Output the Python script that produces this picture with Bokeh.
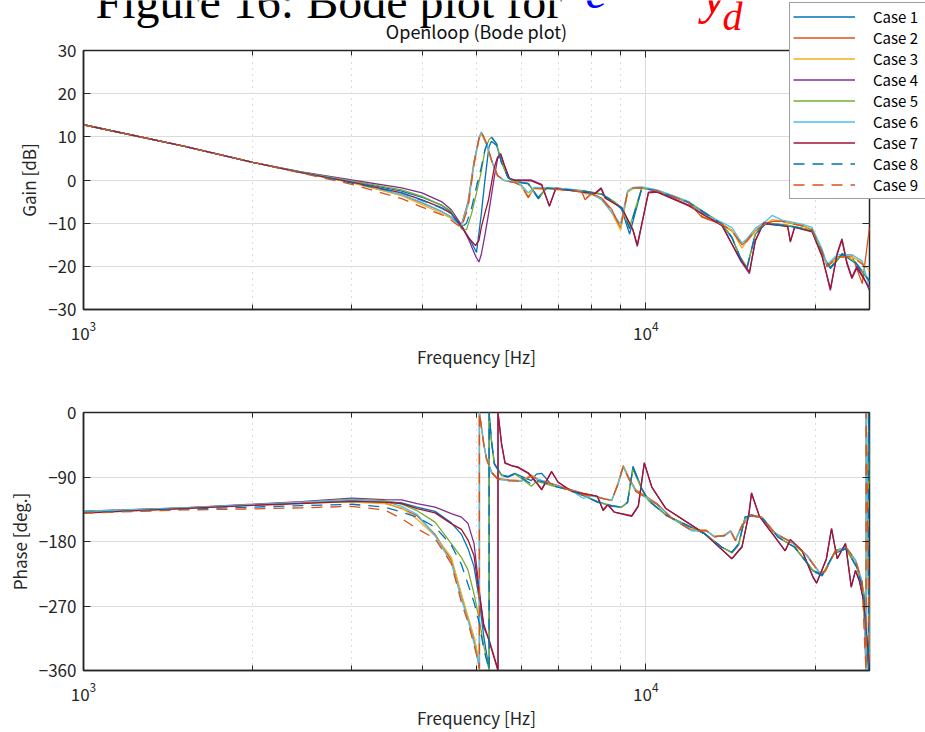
from bokeh.plotting import figure
from bokeh.models import (Range1d, FixedTicker, LogAxis, LinearAxis, Legend, LegendItem, Label,
                          CustomJSTickFormatter)
from bokeh.layouts import column
from bokeh.embed import file_html
from bokeh.resources import INLINE

# ---------------- data ----------------
case_names = ["Case 1", "Case 2", "Case 3", "Case 4", "Case 5", "Case 6", "Case 7", "Case 8", "Case 9"]
case_colors = ["#0072BD", "#D95319", "#EDB120", "#7E2F8E", "#77AC30", "#4DBEEE", "#A2142F", "#0072BD", "#D95319"]
case_dash = ["solid", "solid", "solid", "solid", "solid", "solid", "solid", "11 8", "11 8"]
case_group = ["B", "A", "A", "C", "B", "A", "C", "B", "A"]

x_major_ticks = [1000, 10000]
x_minor_ticks = [2000, 3000, 4000, 5000, 6000, 7000, 8000, 9000, 20000]
gain_ticks = [-30, -20, -10, 0, 10, 20, 30]
phase_ticks = [-360, -270, -180, -90, 0]

heading_text = "Figure 16: Bode plot for"

# gain frequency grids [Hz] per resonance group
gain_freq_A = [1000, 1500, 2000, 2440, 3000, 3680, 4000, 4330, 4510, 4600, 4700, 4830, 4950, 5055, 5100, 5210,
               5320, 5450, 5600, 5850, 6010, 6180, 6330, 6970, 7380, 7690, 7800, 8010, 8350, 8700, 9020, 9280,
               9490, 9840, 10470, 11130, 11930, 12580, 13660, 14230, 14830, 15140, 15660, 16320, 16780, 17470,
               18970, 19760, 20590, 21020, 21900, 23290, 24270, 25000]
gain_freq_B = [1000, 1500, 2000, 2440, 3000, 3680, 4000, 4330, 4510, 4700, 4800, 4900, 5000, 5100, 5175, 5260,
               5315, 5430, 5540, 5690, 5850, 6180, 6440, 6660, 7000, 7690, 8350, 8790, 9060, 9360, 9840, 10470,
               11930, 13660, 14230, 14730, 15140, 15660, 16320, 17970, 19760, 20870, 21300, 22350, 23610, 25000]
gain_freq_C = [1000, 1500, 2000, 2440, 3000, 3680, 4000, 4330, 4510, 4700, 4850, 4980, 5050, 5100, 5180, 5250,
               5320, 5380, 5450, 5520, 5600, 5720, 5850, 6260, 6530, 6740, 6920, 7690, 8130, 8330, 8470, 9060,
               9490, 9660, 10110, 10470, 11930, 13660, 14730, 15290, 15660, 16210, 17880, 18080, 18400, 19760,
               20590, 21300, 21880, 22330, 22790, 23260, 23740, 24400, 25000]

# gain [dB] per case
gain_1 = [12.8, 7.9, 4.1, 1.8, -0.3, -2.6, -4.0, -5.8, -7.5, -10.5, -12.5, -14.5, -16.8, -7.8, -0.1, 7.6, 9.0,
          8.0, 4.1, 0.6, -0.3, -0.8, -4.0, -1.9, -2.1, -2.5, -3.3, -5.2, -6.8, -12.5, -1.9, -2.5, -5.2, -10.2,
          -13.4, -18.0, -20.4, -12.6, -10.2, -10.7, -11.8, -18.7, -20.5, -17.2, -19.3, -23.5]
gain_2 = [12.8, 7.9, 4.1, 1.7, -0.6, -3.5, -5.3, -7.3, -8.6, -9.6, -10.4, -5.0, 4.3, 9.8, 11.0, 8.3, 4.4, 1.0,
          -0.1, -0.6, -1.3, -4.1, -1.9, -2.1, -2.4, -2.6, -4.6, -3.1, -4.2, -6.8, -11.2, -2.8, -1.9, -1.8, -2.5,
          -3.7, -5.3, -8.6, -10.3, -11.8, -15.0, -14.2, -11.8, -10.2, -9.6, -9.6, -10.6, -11.5, -16.5, -20.0,
          -17.8, -17.6, -24.0, -11.0]
gain_3 = [12.8, 7.9, 4.1, 1.7, -0.6, -3.6, -5.7, -7.7, -8.9, -9.8, -10.6, -6.0, 3.5, 9.5, 10.8, 8.2, 4.4, 1.0,
          -0.1, -0.6, -1.4, -3.8, -1.9, -2.1, -2.4, -2.6, -3.2, -3.3, -4.5, -7.6, -11.6, -2.9, -2.0, -1.8, -2.5,
          -3.7, -5.3, -8.0, -10.2, -11.6, -15.8, -14.0, -11.6, -10.1, -9.2, -9.5, -10.5, -11.4, -16.4, -20.1,
          -17.9, -17.8, -19.2, -21.0]
gain_4 = [12.8, 7.9, 4.1, 1.9, 0.0, -1.8, -3.0, -5.0, -6.9, -10.4, -14.0, -17.6, -19.0, -17.2, -12.5, -8.0, -3.2,
          0.8, 4.9, 5.9, 3.4, 0.3, 0.0, 0.0, -1.0, -6.1, -1.8, -2.6, -3.0, -1.8, -4.0, -6.3, -11.7, -15.4, -2.8,
          -2.6, -5.8, -10.3, -18.6, -21.7, -14.0, -9.8, -10.5, -14.4, -10.8, -11.8, -17.5, -25.6, -17.1, -13.6,
          -19.0, -22.5, -20.0, -22.5, -25.6]
gain_5 = [12.8, 7.9, 4.1, 1.8, -0.2, -2.3, -3.8, -5.8, -7.2, -11.3, -11.5, -7.8, -3.0, 2.0, 6.8, 9.3, 9.9, 8.4,
          4.1, 0.6, -0.3, -0.8, -4.4, -1.8, -2.0, -2.4, -3.2, -5.0, -6.5, -10.9, -1.8, -2.4, -5.1, -10.1, -13.2,
          -17.9, -20.2, -12.5, -10.0, -10.5, -11.6, -18.5, -20.2, -17.0, -19.0, -23.3]
gain_6 = [12.8, 7.9, 4.1, 1.7, -0.4, -3.4, -5.2, -7.2, -8.6, -9.8, -10.6, -5.5, 4.0, 9.9, 11.1, 8.4, 4.5, 1.0,
          -0.1, -0.5, -1.2, -3.0, -1.7, -1.9, -2.2, -2.5, -3.0, -3.2, -4.6, -7.5, -10.2, -2.5, -1.7, -1.6, -2.3,
          -3.5, -5.0, -7.8, -9.8, -11.0, -14.6, -13.6, -11.2, -9.6, -8.2, -9.3, -10.2, -11.0, -16.0, -19.6,
          -17.3, -17.3, -18.8, -25.0]
gain_7 = [12.8, 7.9, 4.1, 1.7, -0.5, -3.0, -4.6, -6.4, -7.8, -10.8, -13.5, -15.2, -14.0, -10.9, -7.5, -4.7, -0.5,
          3.0, 5.3, 6.1, 3.6, 0.4, -0.1, -0.2, -1.2, -6.0, -2.0, -2.8, -3.1, -2.0, -4.2, -6.5, -11.5, -15.0, -3.0,
          -2.8, -6.0, -10.6, -18.4, -21.3, -14.2, -10.0, -10.8, -14.2, -11.0, -12.0, -17.8, -25.2, -17.4, -13.9,
          -19.4, -22.8, -20.4, -22.8, -25.0]
gain_8 = [12.8, 7.9, 4.1, 1.7, -0.7, -3.0, -4.7, -6.5, -7.8, -11.0, -10.0, -6.5, -1.5, 3.0, 7.0, 9.5, 10.0, 8.3,
          4.0, 0.5, -0.4, -0.9, -4.3, -1.9, -2.1, -2.5, -3.3, -5.1, -6.6, -11.3, -1.9, -2.5, -5.2, -10.2, -13.3,
          -18.0, -20.3, -12.6, -10.1, -10.6, -11.7, -18.6, -20.3, -17.1, -19.1, -23.4]
gain_9 = [12.8, 7.9, 4.1, 1.6, -1.0, -4.3, -6.3, -8.0, -9.3, -10.2, -11.0, -6.5, 3.8, 9.8, 11.2, 8.5, 4.6, 1.1,
          -0.1, -0.6, -1.3, -4.0, -2.0, -2.2, -2.5, -2.7, -4.4, -3.2, -4.3, -7.0, -11.0, -2.8, -1.9, -1.8, -2.5,
          -3.7, -5.3, -8.4, -10.3, -11.7, -15.2, -14.0, -11.7, -10.1, -9.5, -9.6, -10.6, -11.5, -16.6, -20.1,
          -17.9, -17.8, -19.5, -21.5]

# phase frequency grids [Hz] per group (repeated value = wrap from -360 to 0)
phase_freq_A = [1000, 1500, 2000, 2440, 3000, 3430, 3680, 3920, 4220, 4510, 4700, 4830, 4950, 5000, 5060, 5060,
                5150, 5210, 5320, 5450, 5690, 6010, 6260, 6440, 6920, 7380, 7750, 8010, 8470, 8700, 8930, 9120,
                9320, 9600, 10470, 11130, 12080, 12800, 13260, 13800, 14160, 14440, 14830, 15330, 16100, 16980,
                18200, 19350, 20420, 20850, 21750, 22700, 23610, 24270, 24500, 24650, 24650, 24800, 25000]
phase_freq_B = [1000, 1500, 2000, 2440, 3000, 3430, 3680, 3920, 4220, 4510, 4700, 4830, 4950, 5050, 5150, 5265,
                5265, 5315, 5380, 5540, 5690, 5850, 6010, 6260, 6390, 6530, 6800, 7380, 7750, 8200, 8700, 9060,
                9280, 9490, 9840, 10110, 10900, 12720, 13660, 14230, 14630, 15020, 15450, 16100, 17200, 18400,
                19830, 20590, 21610, 22700, 23740, 24400, 24900, 24900, 25000]
phase_freq_C = [1000, 1500, 2000, 2440, 3000, 3430, 3680, 3920, 4220, 4510, 4700, 4830, 4950, 5050, 5150, 5260,
                5420, 5460, 5460, 5540, 5620, 5770, 5930, 6180, 6390, 6530, 6610, 6800, 6980, 7380, 8200, 8400,
                8560, 8790, 9440, 9700, 9940, 10250, 10860, 12720, 14230, 14830, 15260, 15420, 15930, 16980,
                17700, 18080, 18970, 19830, 20130, 20950, 21400, 21900, 22660, 23200, 23610, 24000, 24400, 25000]

# phase [deg.] per case
phase_1 = [-139, -133.5, -129, -126, -122.5, -124, -126, -132, -138, -154, -170, -190, -215, -258, -312, -359, 0,
           -39, -71, -87, -89, -85, -89, -95, -86, -85, -101, -108, -116, -124, -131, -132, -126, -75, -106, -122,
           -144, -169, -188, -195, -183, -146, -143, -147, -174, -188, -221, -228, -197, -190, -216, -250, -360,
           0, -80]
phase_2 = [-139, -134, -129, -126, -124, -126, -134, -144, -170, -206, -255, -287, -318, -332, -358, 0, -43, -64,
           -83, -92, -94, -95, -88, -94, -101, -108, -113, -115, -121, -123, -98, -74, -90, -108, -127, -147, -164,
           -164, -174, -171, -165, -178, -157, -143, -146, -168, -182, -199, -224, -222, -192, -189, -207, -238,
           -300, -360, 0, -150, -330]
phase_3 = [-139, -134, -129, -126, -125, -127, -133, -149, -172, -202, -253, -285, -313, -328, -358, 0, -44, -65,
           -84, -93, -95, -95, -87, -94, -102, -109, -114, -116, -121, -122, -99, -75, -91, -109, -128, -148, -165,
           -164, -173, -172, -166, -178, -158, -144, -147, -169, -181, -200, -224, -221, -193, -188, -206, -236,
           -295, -360, 0, -130, -340]
phase_4 = [-137.7, -133, -128, -124.5, -119.5, -121.5, -122, -127, -132, -141, -146, -155, -183, -244, -300, -316,
           -350, -360, 0, -44, -70, -74, -76, -84, -97, -107, -100, -83, -97, -110, -117, -136, -128, -139, -144,
           -130, -71, -104, -134, -169, -204, -188, -141, -113, -145, -174, -193, -178, -193, -230, -238, -204,
           -162, -204, -183, -244, -220, -235, -262, -355]
phase_5 = [-138, -133, -128.5, -125, -121, -123, -128, -137, -153, -183, -202, -220, -253, -287, -325, -359, 0,
           -39, -72, -88, -90, -86, -92, -103, -96, -98, -102, -109, -116, -125, -130, -132, -125, -79, -107, -123,
           -144, -169, -188, -196, -185, -146, -144, -147, -174, -188, -220, -227, -197, -190, -216, -249, -360,
           0, -100]
phase_6 = [-138, -133.5, -128.5, -125.5, -121.5, -124, -131, -142, -172, -210, -260, -290, -322, -335, -358, 0,
           -44, -65, -84, -93, -95, -96, -89, -93, -102, -109, -120, -116, -121, -122, -100, -76, -92, -110, -128,
           -148, -165, -165, -173, -172, -166, -179, -158, -144, -147, -169, -181, -200, -225, -221, -193, -188,
           -206, -237, -290, -360, 0, -120, -345]
phase_7 = [-140.3, -134, -129.5, -127, -124, -125, -127, -134, -140, -155, -163, -178, -200, -250, -295, -318,
           -352, -360, 0, -43, -71, -74, -77, -85, -98, -108, -100, -82, -97, -110, -117, -137, -129, -139, -145,
           -131, -70, -104, -134, -169, -204, -187, -141, -112, -145, -174, -193, -177, -193, -229, -238, -205,
           -162, -204, -183, -243, -221, -236, -263, -357]
phase_8 = [-139.5, -135, -132, -130, -128, -132, -139, -146, -160, -185, -212, -240, -265, -292, -330, -359, 0,
           -40, -72, -88, -90, -86, -91, -100, -95, -96, -102, -109, -116, -125, -130, -132, -125, -77, -107, -123,
           -144, -169, -188, -195, -184, -146, -144, -147, -174, -188, -220, -227, -197, -190, -216, -249, -360,
           0, -90]
phase_9 = [-140.5, -136, -134.5, -133, -131, -136, -148, -162, -176, -211, -265, -293, -325, -338, -358, 0, -44,
           -65, -84, -93, -95, -96, -89, -93, -102, -109, -115, -116, -121, -122, -100, -75, -92, -110, -128, -148,
           -165, -165, -173, -172, -166, -179, -158, -144, -147, -169, -181, -200, -225, -221, -193, -188, -206,
           -237, -320, -360, 0, -140, -350]

gain_freq = {"A": gain_freq_A, "B": gain_freq_B, "C": gain_freq_C}
phase_freq = {"A": phase_freq_A, "B": phase_freq_B, "C": phase_freq_C}
gains = [gain_1, gain_2, gain_3, gain_4, gain_5, gain_6, gain_7, gain_8, gain_9]
phases = [phase_1, phase_2, phase_3, phase_4, phase_5, phase_6, phase_7, phase_8, phase_9]

# ---------------- styling ----------------
FONT = "Noto Sans CJK JP"
INK = "#262626"
W = 925
blank = CustomJSTickFormatter(code="return ' ';")
minus_fmt = CustomJSTickFormatter(code="return (tick < 0 ? '\\u2212' : '') + Math.abs(tick);")


def style_axes(p, yticks, ylabel):
    xt = FixedTicker(ticks=x_major_ticks, minor_ticks=x_minor_ticks)
    yt = FixedTicker(ticks=yticks)
    p.outline_line_color = INK
    p.outline_line_width = 1.5
    xa = p.xaxis[0]
    ya = p.yaxis[0]
    xa.ticker = xt
    ya.ticker = yt
    ya.formatter = minus_fmt
    xa.axis_label = "Frequency [Hz]"
    ya.axis_label = ylabel
    for ax in (xa, ya):
        ax.axis_line_color = INK
        ax.axis_line_width = 1.5
        ax.major_tick_in = 7
        ax.major_tick_out = 0
        ax.minor_tick_in = 5
        ax.minor_tick_out = 0
        ax.major_tick_line_color = INK
        ax.minor_tick_line_color = INK
        ax.major_label_text_font = FONT
        ax.major_label_text_font_size = "17px"
        ax.major_label_text_color = INK
        ax.axis_label_text_font = FONT
        ax.axis_label_text_font_size = "17px"
        ax.axis_label_text_font_style = "normal"
        ax.axis_label_text_color = INK
    ya.minor_tick_line_color = None
    xa.major_label_standoff = 11
    ya.major_label_standoff = 7
    xa.axis_label_standoff = 1
    ya.axis_label_standoff = 4
    # box ticks on top and right
    top = LogAxis(ticker=xt, formatter=blank, major_tick_in=7, major_tick_out=0, minor_tick_in=5,
                  minor_tick_out=0, major_tick_line_color=INK, minor_tick_line_color=INK, axis_line_color=None,
                  major_label_text_font_size="2px", major_label_standoff=0)
    right = LinearAxis(ticker=yt, formatter=blank, major_tick_in=7, major_tick_out=0,
                       minor_tick_line_color=None, major_tick_line_color=INK, axis_line_color=None,
                       major_label_text_font_size="2px", major_label_standoff=0)
    p.add_layout(top, "above")
    p.add_layout(right, "right")
    g = p.xgrid[0]
    g.ticker = xt
    g.grid_line_color = "#dcdcdc"
    g.minor_grid_line_color = "#b9b9b9"
    g.minor_grid_line_dash = "1 5"
    yg = p.ygrid[0]
    yg.ticker = yt
    yg.grid_line_color = "#dcdcdc"


# ---------------- gain plot ----------------
p1 = figure(width=W, height=375, x_axis_type="log", x_range=Range1d(1000, 25000), y_range=Range1d(-30, 30),
            output_backend="svg", toolbar_location=None, min_border_left=83, min_border_right=56,
            min_border_top=50, min_border_bottom=66, title="Openloop (Bode plot)")
p1.title.align = "center"
p1.title.text_font = FONT
p1.title.text_font_size = "18px"
p1.title.text_font_style = "normal"
p1.title.text_color = "#111111"
p1.title.standoff = 4
style_axes(p1, gain_ticks, "Gain [dB]")
for i in range(9):
    p1.line(gain_freq[case_group[i]], gains[i], line_color=case_colors[i], line_width=1.3,
            line_dash=case_dash[i])

# ---------------- phase plot ----------------
p2 = figure(width=W, height=357, x_axis_type="log", x_range=Range1d(1000, 25000), y_range=Range1d(-360, 0),
            output_backend="svg", toolbar_location=None, min_border_left=83, min_border_right=56,
            min_border_top=37, min_border_bottom=62)
style_axes(p2, phase_ticks, "Phase [deg.]")
for i in range(9):
    p2.line(phase_freq[case_group[i]], phases[i], line_color=case_colors[i], line_width=1.3,
            line_dash=case_dash[i])

layout = column(p1, p2, spacing=0)

# ---------------- overlay (separate root): legend box and clipped page heading ----------------
OV_H = 205
ov = figure(width=W, height=OV_H, x_range=Range1d(0, 1), y_range=Range1d(0, 1), output_backend="svg",
            toolbar_location=None, x_axis_location=None, y_axis_location=None, min_border=0,
            outline_line_color=None, background_fill_alpha=0, border_fill_alpha=0,
            styles={"position": "absolute", "left": "0px", "top": "0px", "z-index": "10"})
ov.grid.visible = False
items = []
for i in range(9):
    # the same gain series, lying outside this overlay's ranges; only used for the legend swatches
    r = ov.line(gain_freq[case_group[i]], gains[i], line_color=case_colors[i], line_width=1.3,
                line_dash=case_dash[i])
    items.append(LegendItem(label=case_names[i], renderers=[r]))
legend = Legend(items=items, location=(789, 6), glyph_width=62, glyph_height=15, label_height=15,
                label_width=60, spacing=0, padding=3, margin=0, label_standoff=18, label_text_font=FONT,
                label_text_font_size="15px", label_text_color="#000000", border_line_color="#404040",
                border_line_width=1, background_fill_color="white", background_fill_alpha=1.0)
ov.add_layout(legend, "center")

# (text, colour, style, size, x, y of text anchor measured from page top)
heading_parts = [(heading_text, "black", "normal", "48px", 95, 1),
                 ("e", "blue", "italic", "48px", 585, -9),
                 ("y", "red", "italic", "52px", 702, -5),
                 ("d", "red", "italic", "40px", 722, 16)]
for txt, col, sty, size, px, py in heading_parts:
    ov.add_layout(Label(x=px, y=OV_H - py, x_units="screen", y_units="screen", text=txt,
                        text_font="Liberation Serif", text_font_size=size, text_font_style=sty,
                        text_color=col, text_baseline="alphabetic"))

open("out.html", "w").write(file_html([layout, ov], INLINE))
